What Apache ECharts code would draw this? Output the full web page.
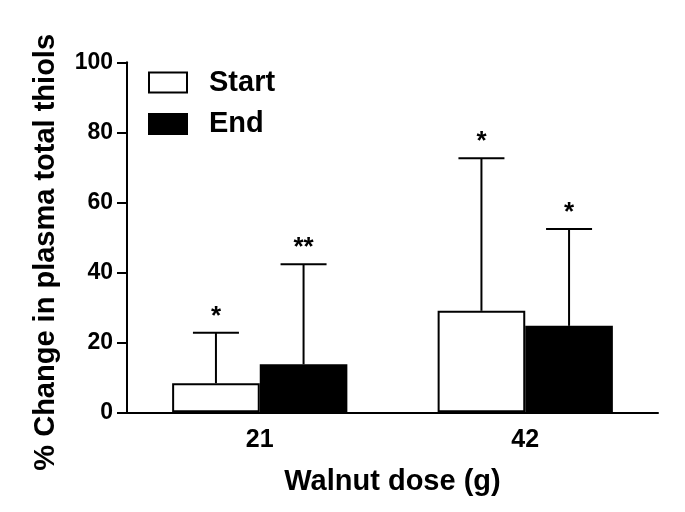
<!DOCTYPE html>
<html>
<head>
<meta charset="utf-8">
<script src="https://cdn.jsdelivr.net/npm/echarts@6/dist/echarts.min.js"></script>
<style>html,body{margin:0;padding:0;background:#fff;}#main{width:685px;height:512px;}</style>
</head>
<body>
<div id="main"></div>
<script>
var categories = ['21', '42'];
var startValues = [8.3, 29.0];
var endValues = [13.7, 24.7];
var startErrTop = [22.7, 72.6];
var endErrTop = [42.3, 52.4];
var startSig = ['*', '*'];
var endSig = ['**', '*'];
var yTicks = [0, 20, 40, 60, 80, 100];

var FONT = 'Liberation Sans, Arial, sans-serif';
var GAP = 0.34;

function errSeries(errs, vals, sigs, side) {
  var data = errs.map(function (v, i) { return [i, v, vals[i]]; });
  return {
    type: 'custom',
    z: 5,
    silent: true,
    data: data,
    encode: { x: 0, y: 1 },
    renderItem: function (params, api) {
      var i = api.value(0);
      var band = api.size([1, 0])[0];
      var barW = band * (1 - GAP) / 2;
      var base = api.coord([i, 0]);
      var top = api.coord([i, api.value(1)]);
      var barTop = api.coord([i, api.value(2)])[1];
      var cx = base[0] + side * barW / 2;
      var cap = 23;
      return {
        type: 'group',
        children: [
          { type: 'line', shape: { x1: cx, y1: barTop, x2: cx, y2: top[1] }, style: { stroke: '#000', lineWidth: 2 } },
          { type: 'line', shape: { x1: cx - cap, y1: top[1], x2: cx + cap, y2: top[1] }, style: { stroke: '#000', lineWidth: 2 } },
          { type: 'text', style: { text: sigs[i], x: cx, y: top[1] - 3, align: 'center', verticalAlign: 'bottom', font: 'bold 26px ' + FONT, fill: '#000' } }
        ]
      };
    }
  };
}

var chart = echarts.init(document.getElementById('main'), null, { renderer: 'canvas' });
chart.setOption({
  animation: false,
  backgroundColor: '#fff',
  grid: { left: 127, right: 27, top: 62.3, bottom: 99.7, containLabel: false },
  legend: {
    left: 148, top: 68, orient: 'vertical', padding: 0,
    itemWidth: 38, itemHeight: 20, itemGap: 12.5,
    textStyle: { fontFamily: FONT, fontWeight: 'bold', fontSize: 29, lineHeight: 20, color: '#000', padding: [0, 0, 0, 17] },
    data: [
      { name: 'Start', icon: 'rect', itemStyle: { color: '#fff', borderColor: '#000', borderWidth: 2 } },
      { name: 'End', icon: 'rect', itemStyle: { color: '#000', borderColor: '#000', borderWidth: 2 } }
    ]
  },
  xAxis: {
    type: 'category', data: categories, boundaryGap: true,
    name: 'Walnut dose (g)', nameLocation: 'middle', nameGap: 55,
    nameTextStyle: { fontFamily: FONT, fontWeight: 'bold', fontSize: 29, color: '#000' },
    axisLine: { lineStyle: { color: '#000', width: 2 } },
    axisTick: { alignWithLabel: true, length: 10, lineStyle: { color: '#000', width: 2 } },
    axisLabel: { fontFamily: FONT, fontWeight: 'bold', fontSize: 25, color: '#000', margin: 15 },
    splitLine: { show: false }
  },
  yAxis: {
    type: 'value', min: 0, max: 100, interval: 20,
    name: '% Change in plasma total thiols', nameLocation: 'middle', nameGap: 67, nameRotate: 90,
    nameTextStyle: { fontFamily: FONT, fontWeight: 'bold', fontSize: 29, color: '#000', padding: [0, 30, 0, 0] },
    axisLine: { show: true, lineStyle: { color: '#000', width: 2 } },
    axisTick: { show: true, length: 10, lineStyle: { color: '#000', width: 2 } },
    axisLabel: { fontFamily: FONT, fontWeight: 'bold', fontSize: 23, color: '#000', margin: 14,
      formatter: function (v) { return yTicks.indexOf(v) >= 0 ? String(v) : ''; } },
    splitLine: { show: false }
  },
  series: [
    { name: 'Start', type: 'bar', data: startValues, barGap: '0%', barCategoryGap: (GAP * 100) + '%',
      itemStyle: { color: '#fff', borderColor: '#000', borderWidth: 2 } },
    { name: 'End', type: 'bar', data: endValues, barGap: '0%', barCategoryGap: (GAP * 100) + '%',
      itemStyle: { color: '#000', borderColor: '#000', borderWidth: 2 } },
    errSeries(startErrTop, startValues, startSig, -1),
    errSeries(endErrTop, endValues, endSig, 1)
  ]
});
</script>
</body>
</html>
